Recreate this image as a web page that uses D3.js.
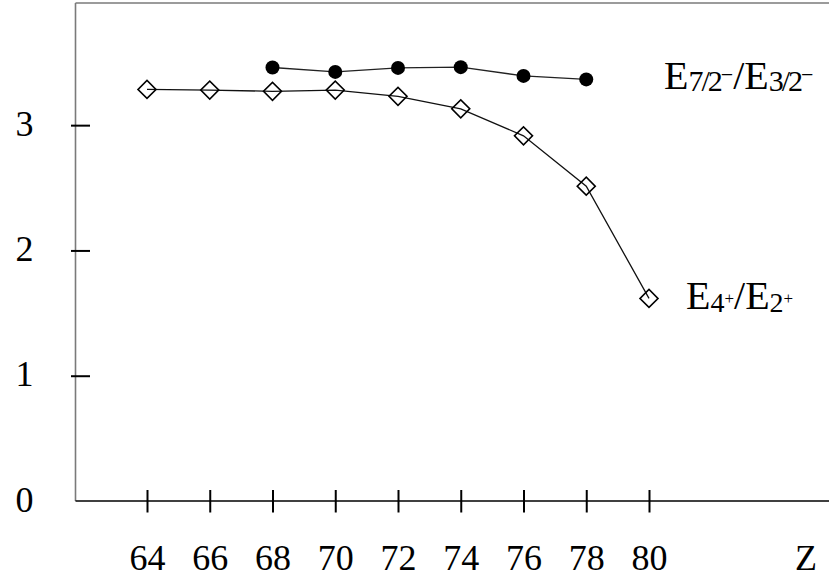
<!DOCTYPE html>
<html lang="en">
<head>
    <meta charset="UTF-8">
    <script src="https://d3js.org/d3.v7.min.js"></script>
    <title>Energy ratios vs Z</title>
    <style>
        body { margin: 0; background: #fff; }
        svg { display: block; }
        text { font-family: "Liberation Serif", "Times New Roman", serif; fill: #000; }
    </style>
</head>
<body>
    <svg width="829" height="581"></svg>
    <script>
        // data
        const zEven = [64, 66, 68, 70, 72, 74, 76, 78, 80];
        const ratio42 = [3.285, 3.28, 3.27, 3.28, 3.23, 3.13, 2.915, 2.513, 1.617];
        const zOdd = [68, 70, 72, 74, 76, 78];
        const ratio7232 = [3.46, 3.425, 3.457, 3.463, 3.393, 3.365];
        const xTicks = [64, 66, 68, 70, 72, 74, 76, 78, 80];
        const yTicks = [0, 1, 2, 3];

        const W = 829;
        const plotLeft = 75.5, plotTop = 3, plotBottom = 501;
        const tickFont = '36px';

        const x = d3.scaleLinear().domain([64, 80]).range([147, 649]);
        const y = d3.scaleLinear().domain([0, 3.975]).range([plotBottom, plotTop]);

        const svg = d3.select('svg');

        // frame: grey left + top, black bottom axis
        svg.append('line')
            .attr('x1', plotLeft).attr('x2', plotLeft).attr('y1', plotTop).attr('y2', plotBottom)
            .attr('stroke', '#7a7a7a').attr('stroke-width', 1.6);
        svg.append('line')
            .attr('x1', plotLeft).attr('x2', W).attr('y1', plotTop).attr('y2', plotTop)
            .attr('stroke', '#7a7a7a').attr('stroke-width', 1.6);
        svg.append('line')
            .attr('x1', plotLeft).attr('x2', W).attr('y1', plotBottom).attr('y2', plotBottom)
            .attr('stroke', '#000').attr('stroke-width', 1.5);

        const yAxis = d3.axisLeft(y).tickValues(yTicks).tickFormat(d3.format('d')).tickSizeOuter(0);
        const gy = svg.append('g')
            .attr('transform', `translate(${plotLeft},0)`)
            .call(yAxis);
        gy.select('.domain').remove();
        gy.selectAll('.tick line')
            .attr('x1', -4.5).attr('x2', 14.5)
            .attr('stroke', '#000').attr('stroke-width', 2);
        gy.selectAll('.tick text')
            .attr('x', -42).attr('dy', 10)
            .attr('text-anchor', 'end')
            .style('font-size', tickFont)
            .style('font-family', '"Liberation Serif", serif');
        gy.selectAll('.tick').filter(d => d === 0).select('line').remove();

        const xAxis = d3.axisBottom(x).tickValues(xTicks).tickFormat(d3.format('d')).tickSizeOuter(0);
        const gx = svg.append('g')
            .attr('transform', `translate(0,${plotBottom})`)
            .call(xAxis);
        gx.select('.domain').remove();
        gx.selectAll('.tick line')
            .attr('y1', -11).attr('y2', 11.5)
            .attr('stroke', '#000').attr('stroke-width', 2);
        gx.selectAll('.tick text')
            .attr('y', 69).attr('dy', 0)
            .style('font-size', tickFont)
            .style('font-family', '"Liberation Serif", serif');

        svg.append('text')
            .attr('x', x(85)).attr('y', plotBottom + 69)
            .attr('text-anchor', 'middle')
            .style('font-size', tickFont)
            .text('Z');

        const line = d3.line().x(d => x(d[0])).y(d => y(d[1]));

        // E4+/E2+ series
        const pts42 = zEven.map((z, i) => [z, ratio42[i]]);
        svg.append('path')
            .datum(pts42)
            .attr('d', line)
            .attr('fill', 'none').attr('stroke', '#111').attr('stroke-width', 1.3);

        const diamond = d3.symbol(d3.symbolSquare, 162);
        svg.selectAll('path.dia')
            .data(pts42)
            .join('path')
            .attr('class', 'dia')
            .attr('d', diamond)
            .attr('transform', d => `translate(${x(d[0])},${y(d[1])}) rotate(45)`)
            .attr('fill', 'none').attr('stroke', '#000').attr('stroke-width', 1.6);

        // E7/2-/E3/2- series
        const pts72 = zOdd.map((z, i) => [z, ratio7232[i]]);
        svg.append('path')
            .datum(pts72)
            .attr('d', line)
            .attr('fill', 'none').attr('stroke', '#222').attr('stroke-width', 1.4);

        svg.selectAll('circle.dot')
            .data(pts72)
            .join('circle')
            .attr('class', 'dot')
            .attr('cx', d => x(d[0])).attr('cy', d => y(d[1]))
            .attr('r', 7)
            .attr('fill', '#000');

        // series labels: E_a^s / E_b^s
        function ratioLabel(xPos, yPos, subA, subB, sign, o) {
            const t = svg.append('text')
                .attr('x', xPos).attr('y', yPos)
                .style('font-size', '40px');
            const part = (sub, first) => {
                if (!first) t.append('tspan').attr('dy', -(o.subDy + o.signDy)).text('/');
                t.append('tspan').text('E');
                t.append('tspan')
                    .attr('dy', o.subDy)
                    .style('font-size', o.subSize + 'px')
                    .style('letter-spacing', o.spacing + 'px')
                    .text(sub);
                t.append('tspan')
                    .attr('dy', o.signDy)
                    .style('font-size', o.signSize + 'px')
                    .text(sign);
            };
            part(subA, true);
            part(subB, false);
        }

        ratioLabel(664, 88.5, '7/2', '3/2', '\u2212', { subSize: 30, subDy: 2, signSize: 22, signDy: -9, spacing: -2 });
        ratioLabel(686, 309, '4', '2', '+', { subSize: 28, subDy: 2.5, signSize: 17, signDy: -7.5, spacing: 0 });
    </script>
</body>
</html>
